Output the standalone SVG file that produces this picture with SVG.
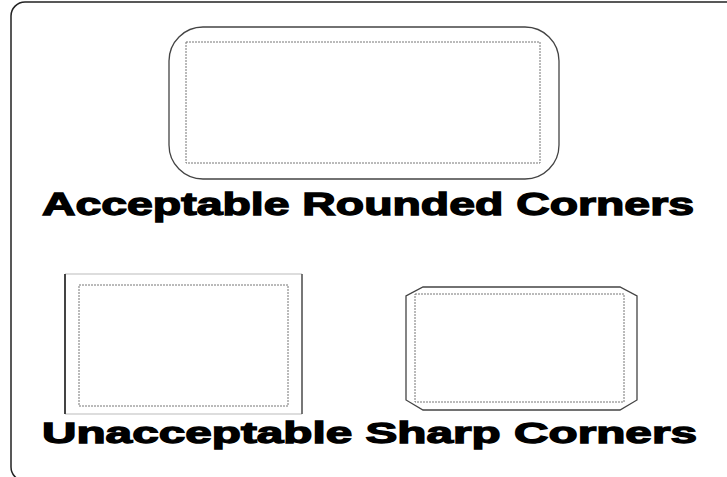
<svg xmlns="http://www.w3.org/2000/svg" width="727" height="477" viewBox="0 0 727 477">
<style>
.frame{fill:none;stroke:#222;stroke-width:1.5}
.outer{fill:none;stroke:#444;stroke-width:1.3}
.inner{fill:none;stroke:#777;stroke-width:1;stroke-dasharray:2 1}
.lbl{font-family:"Liberation Sans",Arial,sans-serif;font-weight:bold;fill:#000;stroke:#000;stroke-width:1.3}
</style>
<rect width="727" height="477" fill="#fff"/>
<rect class="frame" x="11" y="2" width="740" height="479" rx="14"/>
<g id="rounded">
<rect class="outer" x="169" y="27" width="390" height="152" rx="34"/>
<rect class="inner" x="186" y="42" width="354" height="121"/>
</g>
<g id="unacceptable">
<line x1="65" y1="274" x2="302" y2="274" stroke="#bbb" stroke-width="1.2"/>
<line x1="65" y1="414" x2="302" y2="414" stroke="#bbb" stroke-width="1.2"/>
<line x1="65" y1="274" x2="65" y2="414" stroke="#444" stroke-width="2"/>
<line x1="302" y1="274" x2="302" y2="414" stroke="#555" stroke-width="1.6"/>
<rect class="inner" x="79" y="285" width="209" height="121"/>
</g>
<g id="sharp">
<polygon class="outer" points="423,287 620,287 637,296 637,400 620,410 423,410 406,400 406,296"/>
<rect class="inner" x="415" y="294" width="209" height="108"/>
</g>
<text class="lbl" x="42" y="215" font-size="31" textLength="652" lengthAdjust="spacingAndGlyphs">Acceptable Rounded Corners</text>
<text class="lbl" x="42" y="443" font-size="30" textLength="655" lengthAdjust="spacingAndGlyphs">Unacceptable Sharp Corners</text>
</svg>
